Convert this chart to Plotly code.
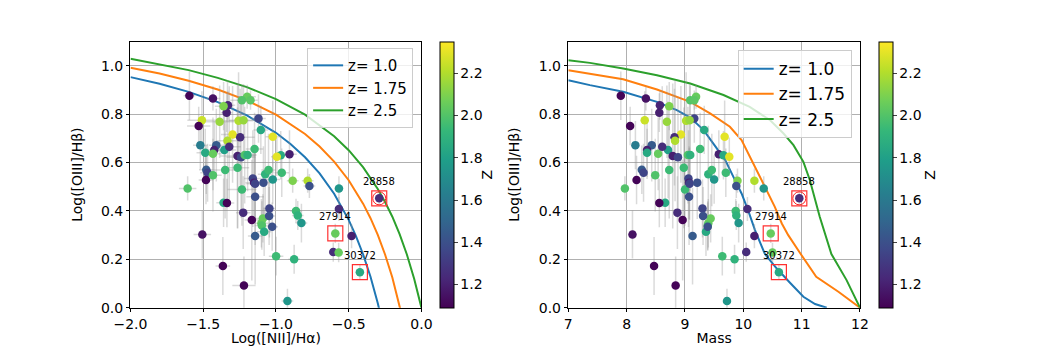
import plotly.graph_objects as go

# log([NII]/Ha), stellar mass, log([OIII]/Hb), redshift for each galaxy
nii = [-1.595, -1.433, -1.330, -1.339, -1.198, -1.234, -1.175, -1.360, -1.120, -1.509,
       -1.531, -1.387, -1.257, -1.223, -1.104, -1.298, -1.022, -1.246, -1.333, -1.520,
       -1.410, -1.424, -1.486, -1.433, -1.355, -1.321, -1.147, -1.264, -1.240, -1.215,
       -1.195, -0.907, -0.967, -0.994, -1.479, -1.470, -1.433, -1.349, -1.264, -1.234,
       -1.159, -1.150, -1.143, -1.086, -1.074, -1.051, -1.022, -0.960, -0.885, -0.782,
       -0.770, -1.607, -1.481, -1.143, -1.360, -1.337, -1.225, -1.166, -1.143, -1.100,
       -1.090, -1.097, -1.081, -1.045, -1.047, -1.026, -0.862, -0.850, -0.825, -0.567,
       -0.567, -1.506, -0.592, -0.480, -0.606, -0.569, -0.999, -0.875, -0.423, -1.365,
       -1.220, -0.921, -0.290]
mass = [7.90, 8.33, 8.57, 8.56, 9.19, 9.09, 9.16, 8.73, 9.16, 8.31,
        8.06, 8.69, 9.02, 9.08, 9.33, 8.93, 9.68, 8.82, 8.83, 8.15,
        8.43, 8.35, 8.35, 8.54, 8.71, 8.61, 9.26, 8.79, 8.88, 9.05,
        9.09, 9.58, 9.66, 9.76, 8.26, 8.29, 8.49, 8.73, 8.98, 9.00,
        9.06, 9.07, 9.08, 9.21, 9.40, 9.46, 9.50, 9.70, 9.90, 10.19,
        9.88, 7.97, 8.17, 9.07, 8.66, 8.56, 8.87, 8.96, 9.13, 9.40,
        9.44, 9.39, 9.36, 9.30, 9.31, 9.39, 9.87, 9.88, 9.92, 10.35,
        10.07, 8.10, 10.47, 10.19, 10.05, 10.50, 9.64, 9.85, 10.61, 8.47,
        8.84, 9.72, 10.96]
o3hb = [0.876, 0.865, 0.837, 0.806, 0.872, 0.858, 0.858, 0.833, 0.782, 0.775,
        0.751, 0.769, 0.773, 0.775, 0.735, 0.716, 0.707, 0.705, 0.690, 0.672,
        0.672, 0.652, 0.640, 0.636, 0.652, 0.665, 0.656, 0.627, 0.622, 0.631,
        0.631, 0.634, 0.630, 0.624, 0.570, 0.558, 0.548, 0.569, 0.578, 0.489,
        0.534, 0.517, 0.512, 0.517, 0.552, 0.569, 0.530, 0.558, 0.525, 0.525,
        0.503, 0.493, 0.528, 0.459, 0.434, 0.433, 0.393, 0.362, 0.296, 0.349,
        0.369, 0.340, 0.314, 0.410, 0.379, 0.335, 0.400, 0.381, 0.350, 0.493,
        0.408, 0.303, 0.307, 0.296, 0.230, 0.228, 0.213, 0.200, 0.147, 0.172,
        0.092, 0.028, 0.452]
zval = [1.10, 1.15, 1.22, 1.20, 2.05, 2.00, 2.02, 2.10, 1.35, 2.25,
        1.10, 2.15, 2.20, 2.15, 1.85, 2.30, 2.30, 1.25, 2.20, 1.62,
        1.45, 1.20, 1.85, 2.05, 1.80, 1.25, 1.95, 1.20, 1.35, 2.00,
        1.90, 1.20, 1.85, 2.30, 1.45, 1.35, 2.00, 1.95, 1.95, 1.95,
        1.35, 1.20, 1.35, 1.40, 1.90, 1.95, 1.75, 1.95, 2.10, 2.20,
        1.40, 2.00, 1.10, 1.40, 1.85, 1.10, 1.25, 1.10, 1.45, 2.05,
        2.05, 2.00, 1.85, 1.35, 1.40, 1.40, 1.95, 1.90, 1.75, 1.75,
        1.25, 1.15, 2.05, 1.20, 1.25, 2.05, 1.95, 1.90, 1.85, 1.10,
        1.10, 1.75, 1.25]
o3hb_err = [0.10, 0.05, 0.06, 0.08, 0.05, 0.06, 0.04, 0.10, 0.10, 0.12,
            0.08, 0.15, 0.20, 0.15, 0.10, 0.20, 0.15, 0.20, 0.25, 0.10,
            0.15, 0.12, 0.10, 0.15, 0.20, 0.25, 0.15, 0.30, 0.25, 0.20,
            0.15, 0.10, 0.10, 0.08, 0.10, 0.12, 0.15, 0.20, 0.25, 0.15,
            0.20, 0.15, 0.15, 0.15, 0.20, 0.15, 0.10, 0.10, 0.05, 0.05,
            0.05, 0.05, 0.10, 0.20, 0.10, 0.10, 0.15, 0.25, 0.20, 0.10,
            0.10, 0.10, 0.10, 0.12, 0.12, 0.10, 0.05, 0.06, 0.08, 0.05,
            0.05, 0.10, 0.04, 0.05, 0.04, 0.04, 0.08, 0.06, 0.03, 0.12,
            0.12, 0.05, 0.03]
nii_err = [0.04, 0.05, 0.05, 0.04, 0.06, 0.08, 0.05, 0.06, 0.05, 0.10,
           0.08, 0.10, 0.10, 0.10, 0.05, 0.08, 0.05, 0.10, 0.08, 0.05,
           0.05, 0.05, 0.06, 0.06, 0.08, 0.08, 0.06, 0.12, 0.10, 0.08,
           0.06, 0.05, 0.05, 0.04, 0.05, 0.05, 0.06, 0.08, 0.08, 0.10,
           0.06, 0.06, 0.06, 0.05, 0.05, 0.05, 0.05, 0.05, 0.04, 0.04,
           0.04, 0.06, 0.05, 0.06, 0.05, 0.05, 0.05, 0.05, 0.05, 0.05,
           0.05, 0.05, 0.05, 0.04, 0.04, 0.04, 0.04, 0.04, 0.04, 0.03,
           0.03, 0.06, 0.03, 0.03, 0.03, 0.03, 0.05, 0.04, 0.03, 0.05,
           0.08, 0.04, 0.03]

# highlighted objects
tag_id = ["28858", "27914", "30372"]
tag_nii = [-0.290, -0.592, -0.423]
tag_mass = [10.96, 10.47, 10.61]
tag_o3hb = [0.452, 0.307, 0.147]

# BPT demarcation curves
bpt_x_10 = [-2.0, -1.8, -1.6, -1.4, -1.2, -1.0, -0.9, -0.8, -0.7, -0.6, -0.5, -0.45, -0.4, -0.35, -0.3, -0.28]
bpt_y_10 = [0.953, 0.926, 0.892, 0.850, 0.795, 0.723, 0.677, 0.622, 0.555, 0.471, 0.363, 0.296, 0.219, 0.128, 0.018, -0.032]
bpt_x_175 = [-2.0, -1.8, -1.6, -1.4, -1.2, -1.0, -0.8, -0.7, -0.6, -0.5, -0.4, -0.35, -0.3, -0.25, -0.2, -0.15, -0.13]
bpt_y_175 = [0.992, 0.968, 0.938, 0.902, 0.857, 0.798, 0.718, 0.666, 0.604, 0.527, 0.429, 0.370, 0.301, 0.220, 0.125, 0.010, -0.043]
bpt_x_25 = [-2.0, -1.8, -1.6, -1.4, -1.2, -1.0, -0.8, -0.6, -0.5, -0.4, -0.3, -0.25, -0.2, -0.15, -0.1, -0.05, 0.0]
bpt_y_25 = [1.029, 1.007, 0.982, 0.950, 0.912, 0.862, 0.798, 0.709, 0.651, 0.580, 0.491, 0.437, 0.376, 0.304, 0.220, 0.120, 0.0]

# MEx demarcation curves
mex_x_10 = [7.0, 7.37, 7.94, 8.52, 8.86, 9.09, 9.32, 9.51, 9.69, 9.83, 9.97, 10.09, 10.2, 10.37, 10.57, 10.8, 11.03, 11.23, 11.43]
mex_y_10 = [0.940, 0.920, 0.893, 0.851, 0.817, 0.786, 0.734, 0.672, 0.610, 0.541, 0.472, 0.397, 0.321, 0.222, 0.163, 0.103, 0.045, 0.015, 0.0]
mex_x_175 = [7.0, 7.37, 7.94, 8.52, 9.09, 9.43, 9.77, 9.97, 10.17, 10.34, 10.54, 10.66, 10.77, 10.97, 11.25, 11.63, 12.0]
mex_y_175 = [0.982, 0.968, 0.944, 0.902, 0.851, 0.803, 0.748, 0.693, 0.596, 0.514, 0.417, 0.348, 0.300, 0.227, 0.128, 0.066, 0.0]
mex_x_25 = [7.0, 7.37, 7.94, 8.52, 9.09, 9.66, 10.11, 10.46, 10.69, 10.86, 11.03, 11.14, 11.31, 11.51, 11.77, 12.0]
mex_y_25 = [1.023, 1.012, 0.989, 0.961, 0.927, 0.879, 0.830, 0.775, 0.720, 0.672, 0.603, 0.528, 0.376, 0.222, 0.114, 0.0]

curve_names = ["z= 1.0", "z= 1.75", "z= 2.5"]
curve_colors = ["#1f77b4", "#ff7f0e", "#2ca02c"]

FONT = "DejaVu Sans"
fig = go.Figure()

# curves
left_curves = [(bpt_x_10, bpt_y_10), (bpt_x_175, bpt_y_175), (bpt_x_25, bpt_y_25)]
right_curves = [(mex_x_10, mex_y_10), (mex_x_175, mex_y_175), (mex_x_25, mex_y_25)]
for (cx, cy), name, col in zip(left_curves, curve_names, curve_colors):
    fig.add_trace(go.Scatter(x=cx, y=cy, mode="lines", name=name, line=dict(color=col, width=2),
                             xaxis="x", yaxis="y", legend="legend"))
for (cx, cy), name, col in zip(right_curves, curve_names, curve_colors):
    fig.add_trace(go.Scatter(x=cx, y=cy, mode="lines", name=name, line=dict(color=col, width=2),
                             xaxis="x2", yaxis="y2", legend="legend2"))

err_col = "rgba(150,150,150,0.35)"

# left panel points
fig.add_trace(go.Scatter(
    x=nii, y=o3hb, mode="markers", showlegend=False, xaxis="x", yaxis="y",
    error_y=dict(type="data", array=o3hb_err, color=err_col, thickness=1.5, width=0),
    error_x=dict(type="data", array=nii_err, color=err_col, thickness=1.5, width=0),
    marker=dict(size=8.5, color=zval, coloraxis="coloraxis")))

# right panel points
fig.add_trace(go.Scatter(
    x=mass, y=o3hb, mode="markers", showlegend=False, xaxis="x2", yaxis="y2",
    error_y=dict(type="data", array=o3hb_err, color=err_col, thickness=1.5, width=0),
    marker=dict(size=8.5, color=zval, coloraxis="coloraxis2")))

# highlight boxes and labels
for xs, xa, ya in [(tag_nii, "x", "y"), (tag_mass, "x2", "y2")]:
    fig.add_trace(go.Scatter(x=[xs[0]], y=[tag_o3hb[0]], mode="markers", showlegend=False,
                             xaxis=xa, yaxis=ya,
                             marker=dict(symbol="circle-open", size=13, color="#ff2020",
                                         line=dict(width=1))))
    fig.add_trace(go.Scatter(x=xs, y=tag_o3hb, mode="markers", showlegend=False,
                             xaxis=xa, yaxis=ya,
                             marker=dict(symbol="square-open", size=15, color="#ff3030",
                                         line=dict(width=1.2))))
    for name, xv, yv in zip(tag_id, xs, tag_o3hb):
        fig.add_annotation(x=xv, y=yv, xref=xa, yref=ya, text=name, showarrow=False,
                           yshift=17, font=dict(family=FONT, size=10, color="black"))

# colour bar labels
for xp in [0.4692, 0.8960]:
    fig.add_annotation(x=xp, y=0.4954, xref="paper", yref="paper", text="Z", showarrow=False,
                       textangle=-90, xanchor="center", yanchor="middle",
                       font=dict(family=FONT, size=14, color="black"))

axis_common = dict(showgrid=True, gridcolor="#b0b0b0", gridwidth=0.8, showline=True,
                   linecolor="black", linewidth=1, mirror=True, ticks="outside",
                   ticklen=3.5, tickcolor="black", zeroline=False, automargin=False,
                   tickfont=dict(family=FONT, size=14, color="black"))
ydom = [0.1107, 0.8798]
cb_common = dict(y=ydom[0], yanchor="bottom", len=ydom[1] - ydom[0], lenmode="fraction",
                 thickness=14, xpad=0, ypad=0, outlinewidth=1, outlinecolor="black",
                 ticks="outside", ticklen=3.5, tickvals=[1.2, 1.4, 1.6, 1.8, 2.0, 2.2],
                 tickformat=".1f", tickfont=dict(family=FONT, size=14))

fig.update_layout(
    width=1038, height=346, margin=dict(l=0, r=0, t=0, b=0, autoexpand=False),
    paper_bgcolor="white", plot_bgcolor="white",
    font=dict(family=FONT, size=14, color="black"),
    xaxis=dict(domain=[0.1257, 0.4060], range=[-2.0, 0.0], tickvals=[-2.0, -1.5, -1.0, -0.5, 0.0],
               tickformat=".1f", title=dict(text="Log([NII]/Hα)", standoff=2,
                                            font=dict(family=FONT, size=14)), anchor="y", **axis_common),
    yaxis=dict(domain=ydom, range=[0, 1.1], tickvals=[0, 0.2, 0.4, 0.6, 0.8, 1.0], tickformat=".1f",
               title=dict(text="Log([OIII]/Hβ)", font=dict(family=FONT, size=14)), anchor="x",
               **axis_common),
    xaxis2=dict(domain=[0.5475, 0.8285], range=[7, 12], tickvals=[7, 8, 9, 10, 11, 12],
                title=dict(text="Mass", standoff=2, font=dict(family=FONT, size=14)), anchor="y2",
                **axis_common),
    yaxis2=dict(domain=ydom, range=[0, 1.1], tickvals=[0, 0.2, 0.4, 0.6, 0.8, 1.0], tickformat=".1f",
                title=dict(text="Log([OIII]/Hβ)", font=dict(family=FONT, size=14)), anchor="x2",
                **axis_common),
    coloraxis=dict(colorscale="Viridis", cmin=1.09, cmax=2.35,
                   colorbar=dict(x=0.4239, xanchor="left", **cb_common)),
    coloraxis2=dict(colorscale="Viridis", cmin=1.09, cmax=2.35,
                    colorbar=dict(x=0.8468, xanchor="left", **cb_common)),
    legend=dict(x=0.398, y=0.861, xanchor="right", yanchor="top", bgcolor="rgba(255,255,255,0.8)",
                bordercolor="#cccccc", borderwidth=1, font=dict(family=FONT, size=15)),
    legend2=dict(x=0.8205, y=0.855, xanchor="right", yanchor="top", bgcolor="rgba(255,255,255,0.8)",
                 bordercolor="#cccccc", borderwidth=1, font=dict(family=FONT, size=17)),
)

# drop the default page margin so the figure sits at the window's corner
fig.write_html("out.html", config={"displayModeBar": False},
               post_script="document.body.style.margin='0';")
